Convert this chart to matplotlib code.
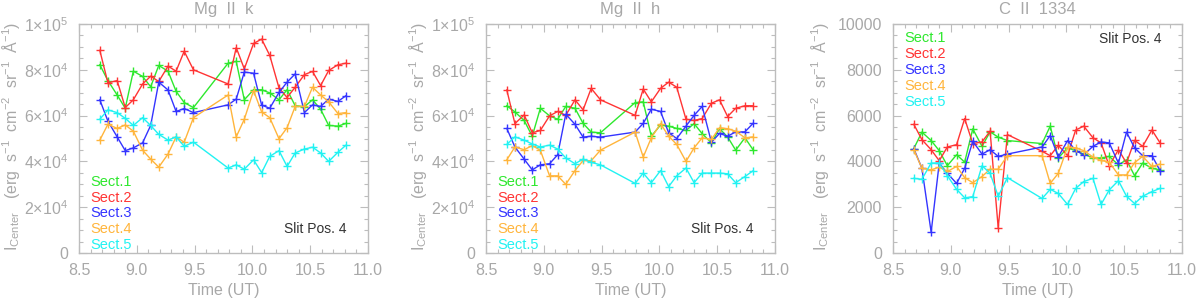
import numpy as np
import matplotlib.pyplot as plt
from matplotlib.ticker import MultipleLocator, FuncFormatter

plt.rcParams['font.family'] = ['Liberation Sans', 'DejaVu Sans']
plt.rcParams['mathtext.fontset'] = 'custom'
plt.rcParams['mathtext.rm'] = 'Liberation Sans'
plt.rcParams['mathtext.it'] = 'Liberation Sans:italic'

# Time of each raster (UT hours)
times = [8.68, 8.75, 8.83, 8.90, 8.97, 9.05, 9.12, 9.19, 9.27, 9.34, 9.41, 9.49,
         9.79, 9.86, 9.93, 10.01, 10.08, 10.15, 10.23, 10.30, 10.37, 10.45, 10.52,
         10.59, 10.66, 10.74, 10.81]

# Mg II k
k_s1 = [82200, 75300, 69000, 63200, 79400, 77100, 72600, 81900, 79400, 70600, 65700, 63500,
        82900, 83700, 66900, 71300, 71300, 69900, 66900, 71300, 64300, 63900, 66900, 62800,
        55700, 55400, 56600]
k_s2 = [88500, 74300, 75300, 63500, 66900, 73800, 77200, 74900, 81600, 79400, 88100, 80000,
        73800, 89700, 80400, 91500, 93400, 86300, 72100, 67900, 72400, 77900, 79300, 73100,
        79700, 82200, 82900]
k_s3 = [66900, 57600, 50700, 44700, 45900, 48100, 55700, 74600, 71200, 61800, 63100, 61300,
        64700, 67200, 79000, 78500, 64600, 63200, 70100, 74600, 78200, 61300, 64700, 64000,
        67200, 66200, 68700]
k_s4 = [49300, 56200, 54400, 55900, 53200, 44900, 41000, 37500, 43200, 50700, 48400, 59100,
        69000, 50700, 58400, 70900, 61600, 59100, 49900, 54700, 64000, 64000, 72400, 69000,
        66000, 60900, 61300]
k_s5 = [58400, 62500, 61300, 58800, 55700, 59100, 55700, 51800, 49300, 50700, 46600, 48400,
        37100, 38500, 36600, 40700, 35100, 42200, 44700, 37800, 43700, 45400, 46200, 43700,
        40000, 44000, 47100]

# Mg II h
h_s1 = [64300, 61600, 57900, 51000, 63200, 59900, 58400, 64000, 63200, 56600, 52800, 52500,
        65700, 66000, 51000, 55900, 55400, 54400, 53500, 56500, 52100, 48100, 54300, 50700,
        44900, 50300, 45100]
h_s2 = [71200, 56500, 60300, 52500, 53500, 59900, 61800, 60100, 66900, 62500, 71900, 66900,
        60100, 71600, 66000, 71900, 74600, 72400, 58400, 57900, 58700, 65400, 66900, 59600,
        63200, 64300, 64300]
h_s3 = [54400, 46300, 41000, 36300, 38500, 39000, 42900, 60600, 56200, 50600, 51000, 50600,
        52800, 56600, 62800, 61800, 52500, 50000, 55400, 60100, 64000, 48400, 52200, 51000,
        52900, 52900, 56600]
h_s4 = [40700, 46300, 45100, 46900, 44900, 33700, 33700, 30000, 36000, 40400, 40300, 44900,
        52800, 41900, 50300, 56500, 51000, 47400, 40000, 45900, 50300, 49600, 54700, 54300,
        53200, 50300, 50700]
h_s5 = [47400, 50700, 49300, 47600, 46300, 47100, 45400, 41500, 39000, 41000, 39600, 38500,
        30400, 34900, 30700, 36000, 29000, 33700, 37100, 30700, 34900, 34900, 34900, 34600,
        30700, 33400, 35900]

# C II 1334
c_s1 = [4560, 5280, 4910, 4470, 3810, 4290, 3970, 5420, 4660, 5290, 5060, 4910,
        4780, 5540, 4150, 4590, 4470, 4320, 4150, 4150, 4220, 3850, 4070, 3370,
        3930, 3700, 3630]
c_s2 = [5620, 4950, 4510, 4030, 4630, 4730, 5870, 4780, 4850, 5320, 1100, 5170,
        4440, 4250, 4700, 4250, 5370, 5540, 5030, 4810, 3810, 4510, 3930, 4920,
        4660, 5370, 4810]
c_s3 = [4560, 3700, 910, 3930, 3480, 3040, 3700, 4880, 4320, 4510, 4220, 4320,
        4630, 5130, 4190, 4910, 4470, 4290, 4660, 4850, 4810, 3930, 5280, 4590,
        4250, 4250, 3600]
c_s4 = [4510, 3700, 3630, 3750, 3560, 3780, 3290, 3070, 3340, 3660, 3660, 4250,
        4250, 3040, 3480, 4630, 4590, 4470, 4190, 4040, 3970, 3410, 3410, 3950,
        4220, 3780, 3880]
c_s5 = [3260, 3220, 3930, 3930, 3380, 2780, 2410, 2460, 3810, 3480, 2480, 3290,
        2380, 2780, 2600, 2120, 2820, 3120, 3260, 2120, 2750, 3160, 2480, 2160,
        2480, 2680, 2820]

titles = ['Mg  II  k', 'Mg  II  h', 'C  II  1334']
sect_names = ['Sect.1', 'Sect.2', 'Sect.3', 'Sect.4', 'Sect.5']
colors = ['#2ee82e', '#ff3434', '#3434ff', '#ffb53c', '#22f2f2']

gray = '#a8a8a8'
axcol = '#bdbdbd'


def sci_fmt(v, pos):
    if abs(v) < 1e-6:
        return '0'
    if v < 0:
        return ''
    e = int(np.floor(np.log10(v) + 1e-9))
    m = v / 10 ** e
    return r'%d$\times$10$^{%d}$' % (round(m), e)


fig = plt.figure(figsize=(12, 3.01), dpi=100)
lefts = [79 / 1200, 486 / 1200, 893 / 1200]
panels = [[k_s1, k_s2, k_s3, k_s4, k_s5],
          [h_s1, h_s2, h_s3, h_s4, h_s5],
          [c_s1, c_s2, c_s3, c_s4, c_s5]]

for p in range(3):
    ax = fig.add_axes([lefts[p], 48 / 301, 289 / 1200, 229 / 301])
    for s in range(5):
        ax.plot(times, panels[p][s], color=colors[s], lw=1.0, marker='+',
                ms=6, mew=1.0)

    ax.set_xlim(8.5, 11.0)
    ax.xaxis.set_major_locator(MultipleLocator(0.5))
    ax.xaxis.set_minor_locator(MultipleLocator(0.1))
    ax.xaxis.set_major_formatter(FuncFormatter(lambda v, pos: '%.1f' % v))
    if p < 2:
        ax.set_ylim(0, 1e5)
        ax.yaxis.set_major_locator(MultipleLocator(2e4))
        ax.yaxis.set_minor_locator(MultipleLocator(5e3))
        ax.yaxis.set_major_formatter(FuncFormatter(sci_fmt))
    else:
        ax.set_ylim(0, 10000)
        ax.yaxis.set_major_locator(MultipleLocator(2000))
        ax.yaxis.set_minor_locator(MultipleLocator(500))

    for sp in ax.spines.values():
        sp.set_color(axcol)
        sp.set_linewidth(1.0)
    ax.tick_params(which='both', direction='in', top=True, right=True,
                   colors=axcol, labelcolor=gray, labelsize=11.5)
    ax.tick_params(which='major', length=6, width=0.8)
    ax.tick_params(which='minor', length=3, width=0.8)
    ax.tick_params(axis='x', pad=7)
    ax.tick_params(axis='y', pad=8)

    ax.set_title(titles[p], color=gray, fontsize=12, pad=7)
    ax.set_xlabel('Time (UT)', color=gray, fontsize=11.5, labelpad=4)
    ax.set_ylabel(r'I$_{\rm Center}$   (erg  s$^{-1}$  cm$^{-2}$  sr$^{-1}$  Å$^{-1}$)',
                  color=gray, fontsize=11.5)
    ax.yaxis.set_label_coords(-0.198 if p < 2 else -0.215, 0.51)

    # section labels and slit position
    if p < 2:
        y0 = 0.311
        ax.text(0.925, 0.103, 'Slit Pos. 4', color='#333333', fontsize=10,
                ha='right', va='center', transform=ax.transAxes)
    else:
        y0 = 0.937
        ax.text(0.93, 0.933, 'Slit Pos. 4', color='#333333', fontsize=10,
                ha='right', va='center', transform=ax.transAxes)
    for s in range(5):
        ax.text(0.04, y0 - s * 0.069, sect_names[s], color=colors[s],
                fontsize=10.5, ha='left', va='center', transform=ax.transAxes)

plt.savefig('out.png', dpi=100)
